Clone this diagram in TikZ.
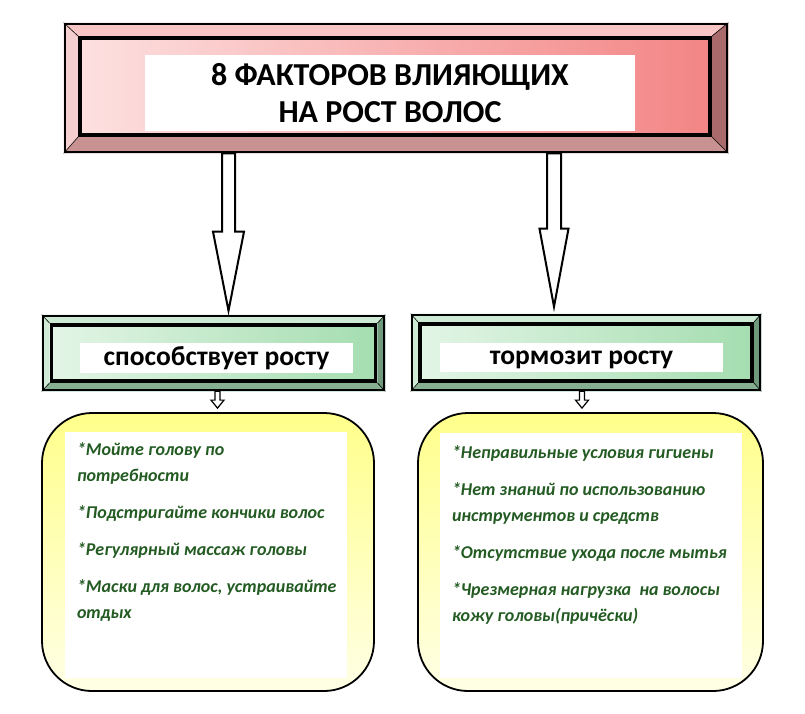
\documentclass[tikz,border=0pt]{standalone}
\usepackage{fontspec}
\setmainfont{Carlito}
\usetikzlibrary{calc, backgrounds}
\definecolor{roseIn}{HTML}{FDE0E0}
\definecolor{roseDeep}{HTML}{F38585}
\definecolor{roseT}{HTML}{F8C4C4}
\definecolor{roseL}{HTML}{F6D0D0}
\definecolor{roseR}{HTML}{A86A6A}
\definecolor{roseB}{HTML}{C99292}
\definecolor{mintIn}{HTML}{E3F5E6}
\definecolor{mintDeep}{HTML}{A5DDB0}
\definecolor{mintT}{HTML}{CDEBD4}
\definecolor{mintL}{HTML}{CFEBD6}
\definecolor{mintR}{HTML}{6F9B7C}
\definecolor{mintB}{HTML}{86AF91}
\definecolor{yelTop}{HTML}{FFFF8A}
\definecolor{yelLow}{HTML}{FFFFE6}
\definecolor{leaf}{HTML}{235B23}

\begin{document}
\begin{tikzpicture}[x=1pt, y=-1pt,
    frame/.style={rectangle, draw=black, line width=2.6pt, inner sep=0pt},
    panel/.style={rectangle, draw=black, line width=3.6pt, inner sep=0pt},
    plate/.style={rectangle, fill=white, inner sep=0pt, align=center},
    heading/.style={plate, text height=20.5pt, text depth=6pt,
                    font=\bfseries\fontsize{27.5}{30}\selectfont},
    pad/.style={rectangle, rounded corners=50pt, draw=black, line width=1.8pt,
                top color=yelTop, bottom color=yelLow, inner sep=0pt},
    items/.style={inner sep=0pt, align=left, text=leaf,
                  font=\bfseries\itshape\fontsize{18}{26}\selectfont},
    hollow/.style args={#1/#2/#3}{draw=black, fill=white, line join=miter,
      to path={let \p1=(\tikztostart), \p2=(\tikztotarget) in
        (\x1-#1,\y1) -- (\x1-#1,\y2+#3) -- (\x1-#2,\y2+#3) -- (\x1,\y2)
        -- (\x1+#2,\y2+#3) -- (\x1+#1,\y2+#3) -- (\x1+#1,\y1) -- cycle}}]
  \useasboundingbox (0,0) rectangle (805,713);

  % title
  \node[frame, minimum width=662pt, minimum height=128pt] (title) at (396,88) {};
  \node[panel, minimum width=630pt, minimum height=97pt, left color=roseIn, right color=roseDeep]
    (titlein) at ([xshift=-1pt, yshift=1.5pt]title.center) {};
  \node[plate, minimum width=490pt, minimum height=76pt, font=\bfseries\fontsize{32}{37}\selectfont]
    (titletxt) at ([xshift=-5pt, yshift=-6.5pt]titlein.center) {8 ФАКТОРОВ ВЛИЯЮЩИХ\\ НА РОСТ ВОЛОС};

  % two headings
  \node[frame, minimum width=341pt, minimum height=74pt] (midl) at (213.5,353) {};
  \node[panel, minimum width=324pt, minimum height=56pt, left color=mintIn, right color=mintDeep]
    (midlin) at (midl.center) {};
  \node[heading, minimum width=273pt, minimum height=30pt]
    (midltxt) at ([xshift=3pt, yshift=-5pt]midlin.center) {способствует росту};

  \node[frame, minimum width=348pt, minimum height=75pt] (midr) at (586,352.5) {};
  \node[panel, minimum width=332pt, minimum height=57pt, left color=mintIn, right color=mintDeep]
    (midrin) at (midr.center) {};
  \node[heading, minimum width=283pt, minimum height=29pt]
    (midrtxt) at ([xshift=-4.5pt, yshift=-5pt]midrin.center) {тормозит росту};

  % bevels
  \begin{pgfonlayer}{background}
    \foreach \o/\i/\ct/\cl/\cr/\cb in {title/titlein/roseT/roseL/roseR/roseB,
                                       midl/midlin/mintT/mintL/mintR/mintB,
                                       midr/midrin/mintT/mintL/mintR/mintB} {
      \fill[\ct] (\o.north west) -- (\o.north east) -- (\i.north east) -- (\i.north west) -- cycle;
      \fill[\cr] (\o.north east) -- (\o.south east) -- (\i.south east) -- (\i.north east) -- cycle;
      \fill[\cb] (\o.south east) -- (\o.south west) -- (\i.south west) -- (\i.south east) -- cycle;
      \fill[\cl] (\o.south west) -- (\o.north west) -- (\i.north west) -- (\i.south west) -- cycle;
      \draw[line width=0.6pt] (\o.north west) -- (\i.north west) (\o.north east) -- (\i.north east)
        (\o.south east) -- (\i.south east) (\o.south west) -- (\i.south west);
    }
  \end{pgfonlayer}

  % lists
  \node[pad, minimum width=332pt, minimum height=278pt] (botl) at (208,552) {};
  \node[plate, minimum width=282pt, minimum height=246pt] (botlin) at (206,555) {};
  \node[items, anchor=north west] (botltxt) at ([xshift=12pt, yshift=-11pt]botlin.north west)
    {*Мойте голову по\\ потребности\\[11pt] *Подстригайте кончики волос\\[11pt]
     *Регулярный массаж головы\\[11pt] *Маски для волос, устраивайте\\ отдых};

  \node[pad, minimum width=345pt, minimum height=278pt] (botr) at (590.5,552) {};
  \node[plate, minimum width=302pt, minimum height=245pt] (botrin) at (591,555.5) {};
  \node[items, anchor=north west] (botrtxt) at ([xshift=12pt, yshift=-12.5pt]botrin.north west)
    {*Неправильные условия гигиены\\[11pt] *Нет знаний по использованию\\ инструментов и средств\\[11pt]
     *Отсутствие ухода после мытья\\[11pt] *Чрезмерная нагрузка~ на волосы\\ кожу головы(причёски)};

  % arrows
  \coordinate (tipl) at ([xshift=15pt, yshift=4pt]midl.north);
  \coordinate (tipr) at ([xshift=-32pt, yshift=7pt]midr.north);
  \draw[hollow=6.5pt/15.5pt/79pt, line width=2pt] (title.south -| tipl) to (tipl);
  \draw[hollow=7pt/14.5pt/78pt, line width=2pt] (title.south -| tipr) to (tipr);
  \coordinate (dropl) at ([xshift=9.5pt, yshift=4pt]botl.north);
  \coordinate (dropr) at ([xshift=-8.5pt, yshift=4pt]botr.north);
  \draw[hollow=2.5pt/6.5pt/8pt, line width=1.2pt] (midl.south -| dropl) to (dropl);
  \draw[hollow=2.5pt/6.5pt/8pt, line width=1.2pt] (midr.south -| dropr) to (dropr);
\end{tikzpicture}
\end{document}
